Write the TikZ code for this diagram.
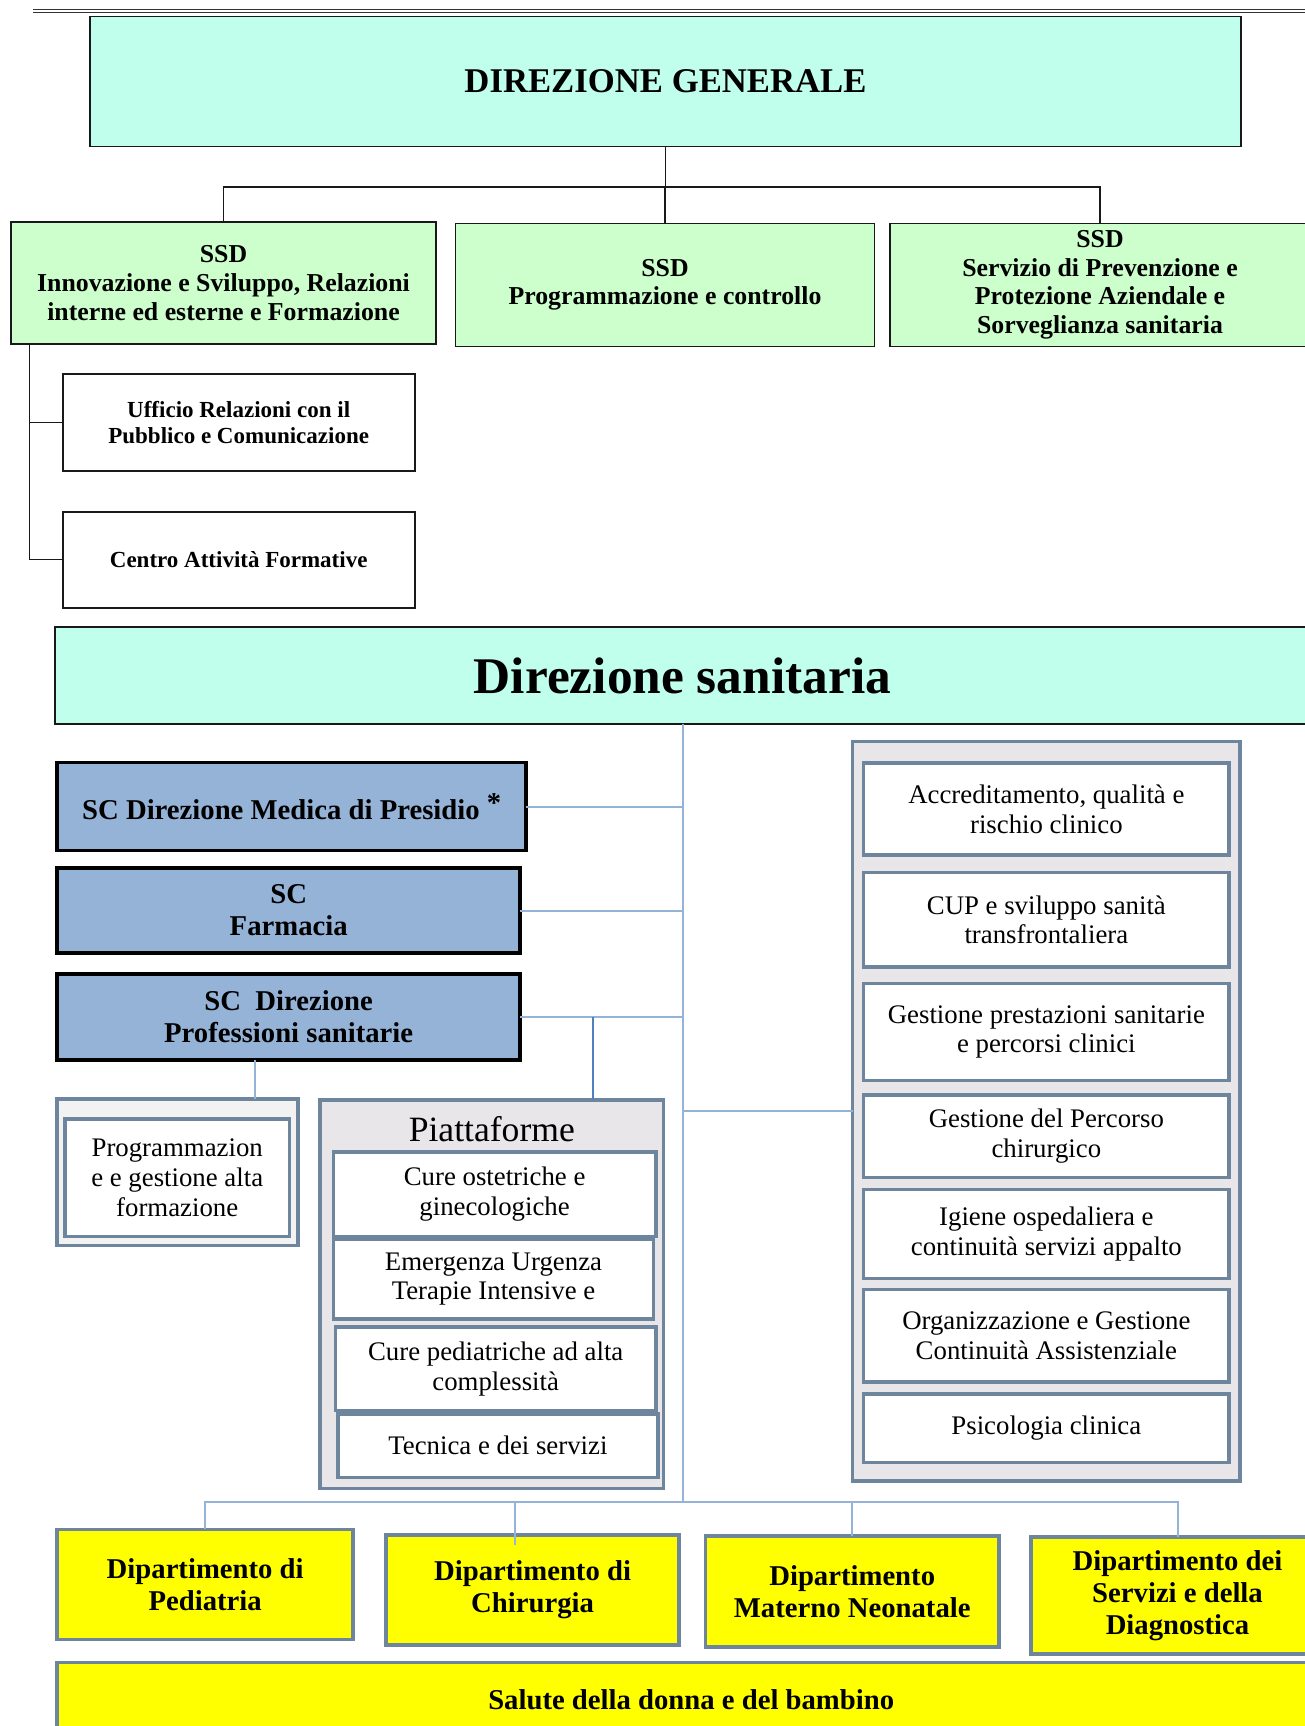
\documentclass[tikz,border=0pt]{standalone}
\usepackage{fontspec}
\setmainfont{Liberation Serif}
\definecolor{mint}{RGB}{191,255,235}
\definecolor{ssdgreen}{RGB}{204,255,204}
\definecolor{scblue}{RGB}{149,179,215}
\definecolor{slate}{RGB}{110,133,158}
\definecolor{grpgray}{RGB}{232,230,232}
\definecolor{palegray}{RGB}{242,242,242}
\definecolor{linkblue}{RGB}{149,179,215}
\definecolor{linkdark}{RGB}{79,129,189}
\definecolor{yel}{RGB}{255,255,0}
\begin{document}
\begin{tikzpicture}[x=1pt,y=-1pt,
  nw/.style={anchor=north west, inner sep=0pt, outer sep=0pt, align=center},
  blk/.style={nw, draw=black!90, line width=1.8pt},
  scb/.style={nw, draw=black, line width=3.8pt, fill=scblue, font=\fontsize{28.7}{31.9}\selectfont\bfseries},
  grp/.style={nw, draw=slate, line width=3.5pt, fill=grpgray},
  itm/.style={nw, draw=slate, line width=3.5pt, fill=white, font=\fontsize{26.8}{29.7}\selectfont},
  dep/.style={nw, draw=slate, line width=3.5pt, fill=yel, font=\fontsize{28.7}{31.9}\selectfont\bfseries},
  ssdf/.style={font=\fontsize{25.8}{28.6}\selectfont\bfseries},
  offf/.style={font=\fontsize{23}{25.3}\selectfont\bfseries},
  blink/.style={draw=black!90, line width=1.5pt},
  llink/.style={draw=linkblue, line width=2pt},
  dlink/.style={draw=linkdark, line width=2pt}
]
\useasboundingbox (0,0) rectangle (1305,1726);
% header rule
\coordinate (hl) at (33,9.5);
\coordinate (hr) at (1310,9.5);
\draw[line width=1.6pt, black!80] (hl) -- (hr);
\draw[line width=1pt, black!80] ([yshift=-3.5pt]hl) -- ([yshift=-3.5pt]hr);

% Direzione generale
\node[blk, fill=mint, minimum width=1151pt, minimum height=130pt, font=\fontsize{34.7}{40}\selectfont\bfseries] (dg) at (90,16.5) {DIREZIONE GENERALE};

% SSD boxes
\node[blk, fill=ssdgreen, minimum width=425pt, minimum height=122pt, ssdf] (ssd1) at (11,222) {SSD\\Innovazione e Sviluppo, Relazioni\\interne ed esterne e Formazione};
\node[blk, fill=ssdgreen, minimum width=419pt, minimum height=123pt, ssdf] (ssd2) at (455.5,223.4) {SSD\\Programmazione e controllo};
\node[blk, fill=ssdgreen, minimum width=420pt, minimum height=123pt, ssdf] (ssd3) at (890,223.4) {SSD\\Servizio di Prevenzione e\\Protezione Aziendale e\\Sorveglianza sanitaria};

\coordinate (bus1) at (665.5,187);
\draw[blink] (dg.south) -- (dg.south |- bus1);
\draw[blink] (ssd1.north) |- (bus1) -| (ssd3.north);
\draw[blink] (ssd2.north) -- (ssd2.north |- bus1);

% offices
\node[blk, fill=white, minimum width=352pt, minimum height=97pt, offf] (urp) at (62.7,374) {Ufficio Relazioni con il\\Pubblico e Comunicazione};
\node[blk, fill=white, minimum width=352pt, minimum height=96pt, offf] (caf) at (62.7,511.6) {Centro Attività Formative};
\coordinate (lt) at (29.7,344.4);
\draw[blink] (lt) |- (urp.west);
\draw[blink] (lt) |- (caf.west);

% Direzione sanitaria
\node[blk, fill=mint, minimum width=1255pt, minimum height=97pt, font=\fontsize{51.4}{56}\selectfont\bfseries] (ds) at (55,627) {Direzione sanitaria};

% SC boxes
\node[scb, minimum width=469pt, minimum height=88pt] (scdm) at (57.2,762.5) {SC Direzione Medica di Presidio\ \raisebox{7pt}{*}};
\node[scb, minimum width=463pt, minimum height=85pt] (scf) at (57.2,868) {SC\\Farmacia};
\node[scb, minimum width=463pt, minimum height=86pt] (scdp) at (57.2,973.8) {SC\ \ Direzione\\Professioni sanitarie};

% Programmazione
\node[nw, draw=slate, line width=3.5pt, fill=palegray, minimum width=241pt, minimum height=146.5pt] (progo) at (57.2,1099) {};
\node[itm, minimum width=224.4pt, minimum height=117.7pt] (prog) at (65,1119) {Programmazion\\e e gestione alta\\formazione};

% Piattaforme
\node[grp, minimum width=343.3pt, minimum height=388.7pt] (piat) at (320.2,1100) {};
\node[font=\fontsize{35.6}{40}\selectfont, inner sep=0pt] (ptitle) at (491.8,1129) {Piattaforme};
\node[itm, minimum width=322.4pt, minimum height=84.7pt] (p1) at (333.4,1152) {Cure ostetriche e\\ginecologiche};
\node[itm, minimum width=320.2pt, minimum height=80.2pt] (p2) at (333.4,1239) {Emergenza Urgenza\\Terapie Intensive e};
\node[itm, minimum width=320.2pt, minimum height=83.6pt] (p3) at (335.6,1327) {Cure pediatriche ad alta\\complessità};
\node[itm, minimum width=320.2pt, minimum height=63.8pt] (p4) at (337.8,1413.9) {Tecnica e dei servizi};

% right group
\node[grp, minimum width=387.3pt, minimum height=739.4pt] (rg) at (852.7,741.6) {};
\node[itm, minimum width=365.3pt, minimum height=92pt] (r1) at (863.7,763) {Accreditamento, qualità e\\rischio clinico};
\node[itm, minimum width=365.3pt, minimum height=94.7pt] (r2) at (863.7,872.5) {CUP e sviluppo sanità\\transfrontaliera};
\node[itm, minimum width=365.3pt, minimum height=96.8pt] (r3) at (863.7,983.7) {Gestione prestazioni sanitarie\\e percorsi clinici};
\node[itm, minimum width=365.3pt, minimum height=82.5pt] (r4) at (863.7,1094.8) {Gestione del Percorso\\chirurgico};
\node[itm, minimum width=365.3pt, minimum height=89.1pt] (r5) at (863.7,1189.4) {Igiene ospedaliera e\\continuità servizi appalto};
\node[itm, minimum width=365.3pt, minimum height=92.4pt] (r6) at (863.7,1289.6) {Organizzazione e Gestione\\Continuità Assistenziale};
\node[itm, minimum width=365.3pt, minimum height=68.3pt] (r7) at (863.7,1394) {Psicologia clinica};

% departments
\node[dep, minimum width=296pt, minimum height=110pt] (d1) at (57.2,1529.4) {Dipartimento di\\Pediatria};
\node[dep, minimum width=292.7pt, minimum height=110pt] (d2) at (386.2,1535) {Dipartimento di\\Chirurgia};
\node[dep, minimum width=293.8pt, minimum height=111pt] (d3) at (705.3,1536) {Dipartimento\\Materno Neonatale};
\node[dep, minimum width=293pt, minimum height=117pt] (d4) at (1031,1537) {Dipartimento dei\\Servizi e della\\Diagnostica};
\node[dep, minimum width=1268pt, minimum height=75pt] (sal) at (57.2,1662.6) {Salute della donna e del bambino};

% blue connectors
\coordinate (bus2) at (682.5,1502);
\draw[llink] (ds.south) -- (bus2);
\draw[llink] (scdm.east) -- (scdm.east -| ds.south);
\draw[llink] (scf.east) -- (scf.east -| ds.south);
\draw[llink] (scdp.east) -- (scdp.east -| ds.south);
\draw[llink] (rg.west -| ds.south) -- (rg.west);
\coordinate (pd) at (255,1059.6);
\draw[llink] (pd) -- (pd |- progo.north);
\coordinate (pj) at (593,1016.7);
\draw[dlink] (pj) -- (pj |- piat.north);
\draw[llink] (d1.north) |- (bus2) -| (d4.north);
\coordinate (d2c) at (515,1502);
\draw[llink] (d2c) -- (515,1545);
\draw[llink] (d3.north) -- (d3.north |- bus2);
\end{tikzpicture}
\end{document}
